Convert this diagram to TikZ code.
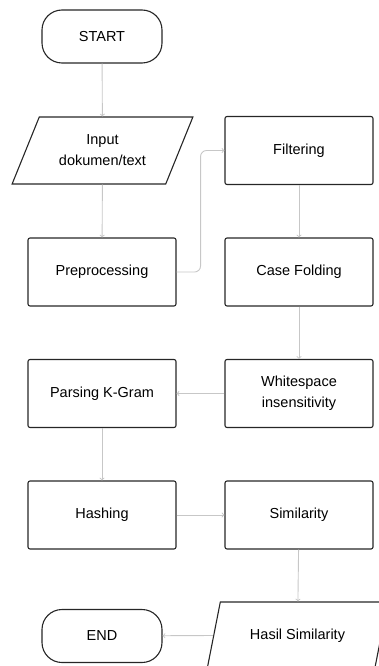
\documentclass[tikz,border=0pt]{standalone}
\usepackage{fontspec}
\setmainfont{Liberation Sans}
\usetikzlibrary{shapes.geometric}

\tikzset{
  box/.style={draw=black!85, line width=1.1pt, rounded corners=2, minimum width=148, minimum height=68, align=center, inner sep=0},
  term/.style={draw=black!85, line width=1.1pt, rounded corners=20, minimum width=120, minimum height=53, inner sep=0},
  io/.style={draw=black!85, line width=1.1pt, trapezium, trapezium left angle=59, trapezium right angle=121, trapezium stretches=true, minimum width=181, minimum height=67, align=center, inner sep=0},
  arr/.style={draw=black!22, line width=0.9pt, ->}
}

\begin{document}
\begin{tikzpicture}[x=1pt, y=-1pt, font=\fontsize{14.5}{21}\selectfont]
            \useasboundingbox (0, 0) rectangle (379, 666);
            \clip (0, 0) rectangle (379, 666);
            \node[term] (start) at (102, 36.5) {START};
            \node[io] (input) at (102.5, 150.5) {Input\\dokumen/text};
            \node[box] (prep) at (102, 272) {Preprocessing};
            \node[box] (filt) at (299, 150.5) {Filtering};
            \node[box] (fold) at (299, 272) {Case Folding};
            \node[box] (white) at (299, 393.5) {Whitespace\\insensitivity};
            \node[box] (kgram) at (102, 393.5) {Parsing K-Gram};
            \node[box] (hash) at (102, 515) {Hashing};
            \node[box] (simi) at (299, 515) {Similarity};
            \node[io] (hasil) at (297.5, 635.5) {Hasil Similarity};
            \node[term] (end) at (102, 636) {END};
            \draw[arr] (start) -- (input);
            \draw[arr] (input) -- (prep);
            \draw[arr, rounded corners=6] (prep.east) -- ++(24, 0) |- (filt.west);
            \draw[arr] (filt) -- (fold);
            \draw[arr] (fold) -- (white);
            \draw[arr] (white) -- (kgram);
            \draw[arr] (kgram) -- (hash);
            \draw[arr] (hash) -- (simi);
            \draw[arr] (simi) -- (hasil);
            \draw[arr] (hasil.west) -- (end);
        \end{tikzpicture}
\end{document}
